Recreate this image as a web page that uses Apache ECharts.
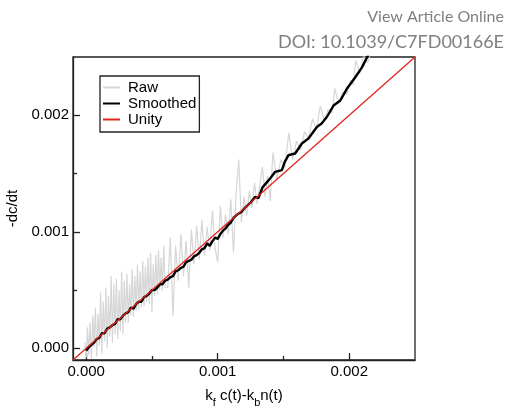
<!DOCTYPE html>
<html>
<head>
<meta charset="utf-8">
<script src="https://cdn.jsdelivr.net/npm/echarts@6/dist/echarts.min.js"></script>
<style>
  html, body { margin: 0; padding: 0; background: #fff; }
  #chart { width: 506px; height: 406px; }
</style>
</head>
<body>
<div id="chart"></div>
<script>
// raw -dc/dt points (noisy)
var rawX = [
  -0.00001,0.00000,0.00001,0.00002,0.00003,0.00004,0.00005,0.00006,0.00007,0.00008,0.00009,
  0.00010,0.00011,0.00012,0.00013,0.00014,0.00015,0.00016,0.00017,0.00018,0.00019,
  0.00020,0.00021,0.00022,0.00023,0.00024,0.00025,0.00026,0.00027,0.00028,0.00029,
  0.00030,0.00031,0.00032,0.00033,0.00034,0.00035,0.00036,0.00037,0.00038,0.00039,
  0.00040,0.00041,0.00042,0.00043,0.00044,0.00045,0.00046,0.00047,0.00048,0.00049,
  0.00050,0.00051,0.00052,0.00053,0.00054,0.00055,0.00056,0.00057,0.00058,0.00059,
  0.00060,
  0.00062,0.00064,0.00066,0.00068,0.00070,0.00072,0.00074,0.00076,0.00078,0.00080,
  0.00082,0.00084,0.00086,0.00088,0.00090,0.00092,0.00094,0.00096,0.00098,0.00100,
  0.00102,0.00104,0.00106,0.00108,0.00110,0.00112,0.00114,0.00116,0.00118,0.00120,
  0.00122,0.00124,0.00126,0.00128,0.00130,
  0.00132,0.00134,0.00136,0.00138,0.00140,0.00142,0.00145,0.00148,0.00151,0.00154,
  0.00157,0.00160,0.00163,0.00166,0.00169,0.00172,0.00175,0.00178,0.00181,0.00184,
  0.00187,0.00189,0.00192,0.00195,0.00198,0.00201,0.00203,0.00205,0.00208,0.00211,
  0.00214,0.00218,0.00222,0.00226
];
var rawY = [
  0.00005,-0.00008,0.00018,-0.00006,0.00022,-0.00009,0.00028,0.00001,0.00035,-0.00007,0.00030,
  0.00002,0.00048,-0.00005,0.00040,0.00006,0.00052,0.00000,0.00045,0.00010,0.00062,
  0.00005,0.00055,0.00012,0.00060,0.00008,0.00050,0.00015,0.00066,0.00012,0.00058,
  0.00022,0.00064,0.00022,0.00055,0.00028,0.00068,0.00027,0.00062,0.00032,0.00072,
  0.00033,0.00066,0.00035,0.00075,0.00036,0.00070,0.00040,0.00078,0.00038,0.00082,
  0.00031,0.00072,0.00045,0.00080,0.00046,0.00084,0.00050,0.00078,0.00049,0.00088,
  0.00052,
  0.00052,0.00095,0.00028,0.00088,0.00058,0.00098,0.00062,0.00092,0.00052,0.00102,
  0.00072,0.00105,0.00076,0.00110,0.00080,0.00104,0.00084,0.00118,0.00086,0.00074,
  0.00122,0.00095,0.00115,0.00098,0.00128,0.00082,0.00132,0.00162,0.00108,0.00130,
  0.00114,0.00135,0.00120,0.00142,0.00124,
  0.00140,0.00156,0.00130,0.00148,0.00126,0.00168,0.00145,0.00162,0.00155,0.00185,
  0.00162,0.00178,0.00170,0.00186,0.00180,0.00197,0.00188,0.00208,0.00196,0.00205,
  0.00202,0.00223,0.00210,0.00220,0.00218,0.00230,0.00226,0.00247,0.00236,0.00252,
  0.00245,0.00260,0.00255,0.00262
];

// smoothed curve
var smoothX = [
  0.00000,0.00002,0.00004,0.00006,0.00008,0.00010,0.00012,0.00014,0.00016,0.00018,
  0.00020,0.00022,0.00024,0.00026,0.00028,0.00030,0.00032,0.00034,0.00036,0.00038,
  0.00040,0.00042,0.00044,0.00046,0.00048,0.00050,0.00052,0.00054,0.00056,0.00058,
  0.00060,0.00062,0.00064,0.00066,0.00068,0.00070,0.00072,0.00074,0.00076,0.00078,
  0.00080,0.00082,0.00084,0.00086,0.00088,0.00090,0.00092,0.00094,0.00096,0.00098,
  0.00100,0.00102,0.00104,0.00106,0.00108,0.00110,0.00112,0.00115,0.00118,0.00121,
  0.00125,0.001285,0.00131,0.00134,0.00137,0.00140,0.001437,0.001488,0.00151,0.001538,
  0.001589,0.00164,0.00169,0.001754,0.00179,0.00183,0.001881,0.001932,0.001982,0.002046,
  0.002097,0.002135,0.00215
];
var smoothY = [
  -0.00002,0.00001,0.00003,0.00005,0.00008,0.00009,0.00013,0.00013,0.00017,0.00018,
  0.00020,0.00021,0.00025,0.00025,0.00028,0.00030,0.00031,0.00035,0.00034,0.00038,
  0.00040,0.00040,0.00044,0.00045,0.00047,0.00050,0.00050,0.00052,0.00055,0.00055,
  0.00058,0.00059,0.00061,0.00062,0.00066,0.00067,0.00069,0.00070,0.00074,0.00075,
  0.00076,0.00079,0.00080,0.00082,0.00085,0.00086,0.00090,0.00088,0.00092,0.00095,
  0.00094,0.00098,0.00101,0.00103,0.00106,0.00108,0.00112,0.00115,0.00117,0.00121,
  0.00125,0.00130,0.00129,0.00138,0.00142,0.00146,0.001515,0.00153,0.00160,0.001658,
  0.001672,0.001758,0.00180,0.001899,0.00193,0.001985,0.002084,0.002127,0.002227,0.002326,
  0.002411,0.002497,0.00253
];

// unity line y = x
var unityX = [-0.0001, 0.0025];
var unityY = [-0.0001, 0.0025];

var axisMin = -0.0001;
var axisMax = 0.0025;
var majorTicks = [0, 0.001, 0.002];
var minorTicks = [0.0005, 0.0015];

function zip(xs, ys) {
  return xs.map(function (x, i) { return [x, ys[i]]; });
}

var font = '"Liberation Sans", Arial, Helvetica, sans-serif';

function mainAxis(pos) {
  return {
    type: 'value',
    position: pos,
    min: axisMin,
    max: axisMax,
    splitLine: { show: false },
    axisLine: { show: true, onZero: false, lineStyle: { color: '#222', width: 1.3 } },
    axisTick: { inside: true, length: 7, customValues: majorTicks, lineStyle: { color: '#222', width: 1.3 } },
    axisLabel: {
      customValues: majorTicks,
      margin: 4,
      color: '#000',
      fontSize: 15,
      fontFamily: font,
      formatter: function (v) { return v.toFixed(3); }
    }
  };
}

function minorAxis(pos) {
  return {
    type: 'value',
    position: pos,
    min: axisMin,
    max: axisMax,
    splitLine: { show: false },
    axisLine: { show: false, onZero: false },
    axisTick: { inside: true, length: 4, customValues: minorTicks, lineStyle: { color: '#222', width: 1.3 } },
    axisLabel: { show: false }
  };
}

var xMain = mainAxis('bottom');
xMain.name = 'k{s|f} c(t)-k{s|b}n(t)';
xMain.nameLocation = 'middle';
xMain.nameGap = 24;
xMain.nameTextStyle = {
  color: '#000', fontSize: 15, fontFamily: font,
  rich: { s: { fontSize: 11, fontFamily: font, color: '#000', padding: [13, 0, 0, 0] } }
};

var yMain = mainAxis('left');
yMain.name = '-dc/dt';
yMain.nameLocation = 'middle';
yMain.nameGap = 43;
yMain.nameRotate = 90;
yMain.nameTextStyle = { color: '#000', fontSize: 15, fontFamily: font };

var lineIcon = 'rect';

var chart = echarts.init(document.getElementById('chart'));
chart.setOption({
  animation: false,
  backgroundColor: '#fff',
  title: [
    {
      text: 'View Article Online', right: 2, top: 9, padding: 0,
      textStyle: { fontSize: 16, fontWeight: 'normal', color: '#7f7f7f', fontFamily: 'Lato' }
    },
    {
      text: 'DOI: 10.1039/C7FD00166E', right: 2, top: 33, padding: 0,
      textStyle: { fontSize: 18, fontWeight: 'normal', color: '#7f7f7f', fontFamily: 'Lato' }
    }
  ],
  grid: {
    left: 73, right: 91, top: 57, bottom: 46,
    outerBoundsMode: 'none',
    containLabel: false,
    show: true, borderColor: '#222', borderWidth: 1.3
  },
  legend: {
    left: 100, top: 76,
    orient: 'vertical',
    itemGap: 1,
    itemWidth: 17,
    itemHeight: 2,
    padding: [4, 3, 5, 3],
    borderColor: '#222',
    borderWidth: 1.3,
    borderRadius: 0,
    textStyle: { fontSize: 15, lineHeight: 15, color: '#000', fontFamily: font, padding: [0, 0, 0, 3] },
    data: [
      { name: 'Raw', icon: lineIcon, itemStyle: { color: '#d6d6d6' } },
      { name: 'Smoothed', icon: lineIcon, itemStyle: { color: '#000' } },
      { name: 'Unity', icon: lineIcon, itemStyle: { color: '#e3241b' } }
    ]
  },
  xAxis: [xMain, minorAxis('bottom')],
  yAxis: [yMain, minorAxis('left')],
  series: [
    {
      name: 'Raw', type: 'line', symbol: 'none',
      lineStyle: { color: '#d6d6d6', width: 1.2 }, itemStyle: { color: '#d6d6d6' },
      data: zip(rawX, rawY)
    },
    {
      name: 'Smoothed', type: 'line', symbol: 'none',
      lineStyle: { color: '#000', width: 2.4 }, itemStyle: { color: '#000' },
      data: zip(smoothX, smoothY)
    },
    {
      name: 'Unity', type: 'line', symbol: 'none',
      lineStyle: { color: '#e3241b', width: 1.3 }, itemStyle: { color: '#e3241b' },
      data: zip(unityX, unityY)
    }
  ]
});
</script>
</body>
</html>
